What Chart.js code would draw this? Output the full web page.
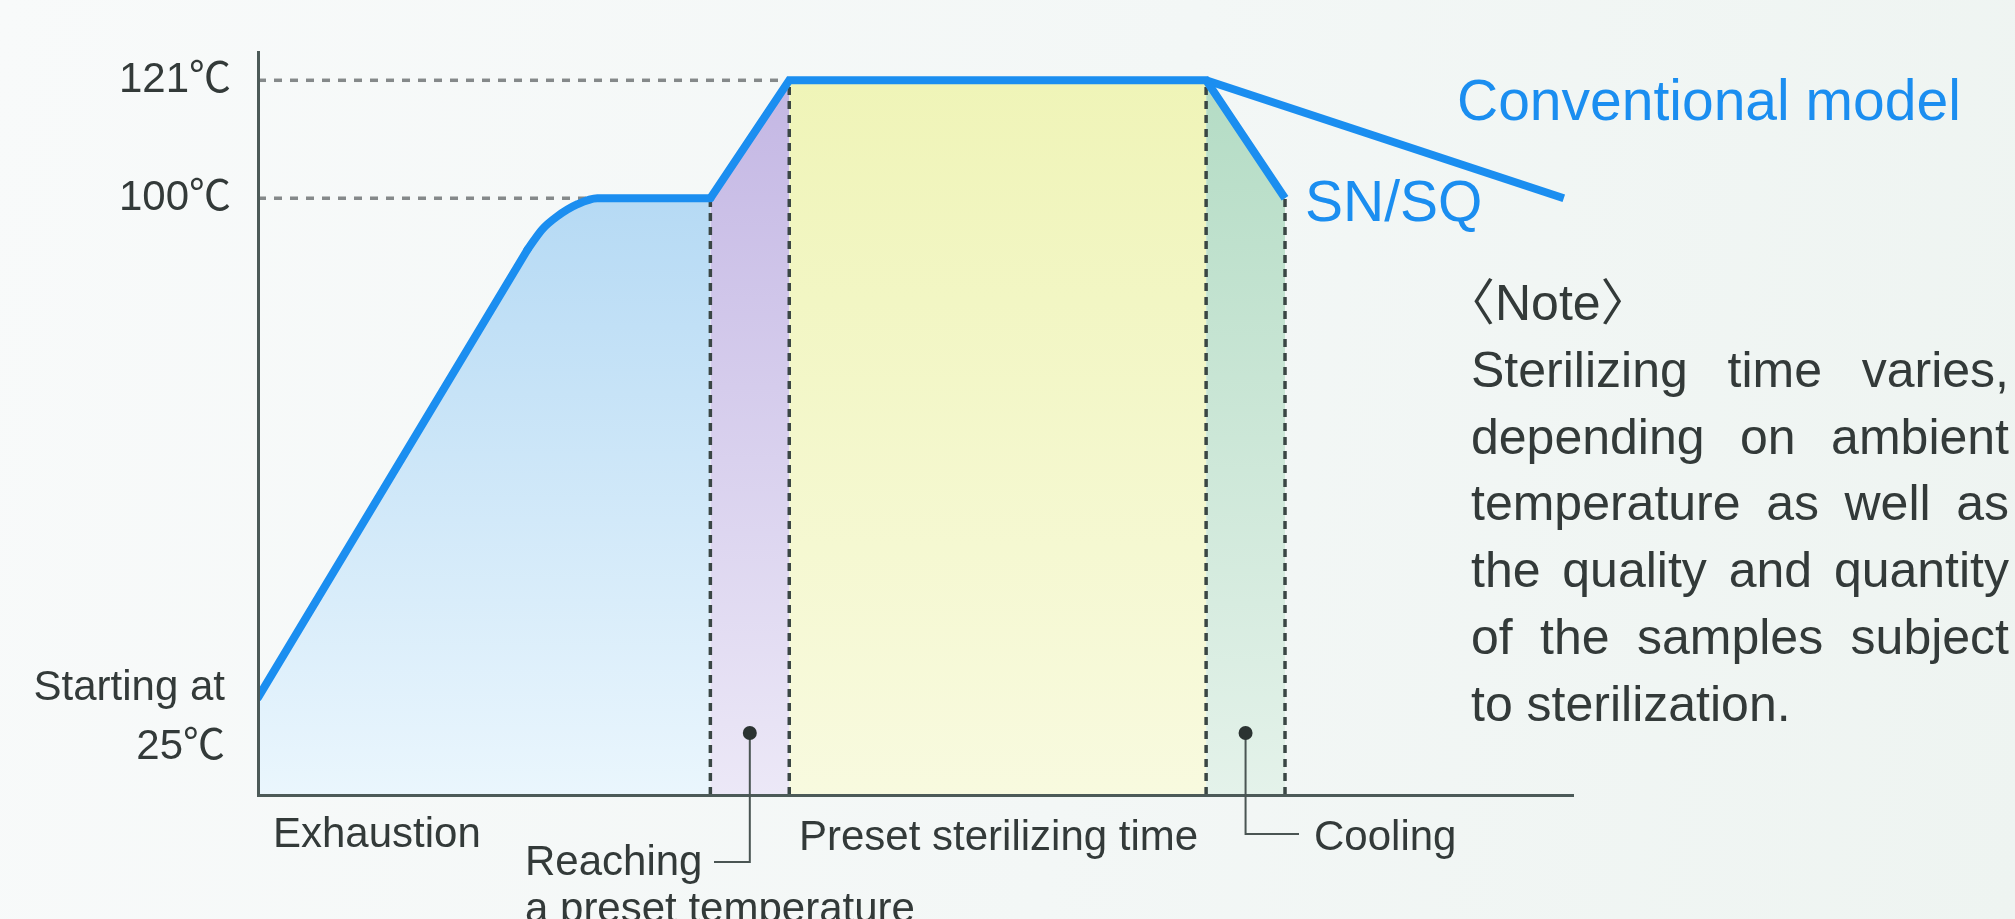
<!DOCTYPE html>
<html>
<head>
<meta charset="utf-8">
<script src="https://cdn.jsdelivr.net/npm/chart.js@4.4.1/dist/chart.umd.min.js"></script>
<style>
  html, body { margin: 0; padding: 0; overflow: hidden; }
  body { background: linear-gradient(100deg, #f8fafa 0%, #f3f7f6 55%, #eef4f1 100%); }
  #wrap { position: relative; width: 2015px; height: 919px; }
</style>
</head>
<body>
<div id="wrap"><canvas id="chart"></canvas></div>
<script>
// --- data (schematic time units, temperature in °C) ---
const phaseX = [0, 34.4, 40.4, 72.1, 78.1];
const snX = [0, 20.5, 21.6, 22.7, 24.3, 25.8, 34.4, 40.4, 72.1, 78.1];
const snY = [25, 92.3, 95.3, 97.2, 99.1, 100, 100, 121, 121, 100];
const kneeX = [20.5, 34.4];
const convX = [72.1, 99.3];
const convY = [121, 100];
const yTicks = [121, 100];
const yTickLabels = ['121℃', '100℃'];
const startLabel = ['Starting at', '25℃'];
const phaseLabels = ['Exhaustion', ['Reaching', 'a preset temperature'], 'Preset sterilizing time', 'Cooling'];
const seriesLabels = ['SN/SQ', 'Conventional model'];
const noteTitle = '〈Note〉';
const noteLines = [
  'Sterilizing time varies,',
  'depending on ambient',
  'temperature as well as',
  'the quality and quantity',
  'of the samples subject',
  'to sterilization.'
];

const BLUE = '#1b8ef0';
const TEXT = '#333a39';
const FONT = '"Liberation Sans", Arial, "Noto Sans CJK JP", sans-serif';
const phaseColors = [
  ['#a9d3f2', '#eaf6fd'],
  ['#c2b5e3', '#ece8f7'],
  ['#eff4b6', '#f8fadf'],
  ['#b2dbc3', '#e4f2ea']
];

// the y axis of the picture is a sketch: 25 -> 100 is stretched more than 100 -> 121
const yKnotVals = [10, 25, 100, 126];
const yKnotPos = [0, 0.1311, 0.8034, 1];
function toDecimal(v) {
  for (let i = 0; i < yKnotVals.length - 1; i++) {
    if (v <= yKnotVals[i + 1] || i === yKnotVals.length - 2) {
      const t = (v - yKnotVals[i]) / (yKnotVals[i + 1] - yKnotVals[i]);
      return yKnotPos[i] + t * (yKnotPos[i + 1] - yKnotPos[i]);
    }
  }
}
function fromDecimal(d) {
  for (let i = 0; i < yKnotPos.length - 1; i++) {
    if (d <= yKnotPos[i + 1] || i === yKnotPos.length - 2) {
      const t = (d - yKnotPos[i]) / (yKnotPos[i + 1] - yKnotPos[i]);
      return yKnotVals[i] + t * (yKnotVals[i + 1] - yKnotVals[i]);
    }
  }
}
class SchematicScale extends Chart.LinearScale {
  getPixelForValue(value) {
    if (value === null || isNaN(value)) return NaN;
    return this.getPixelForDecimal(toDecimal(value));
  }
  getValueForPixel(pixel) {
    return fromDecimal(this.getDecimalForPixel(pixel));
  }
}
SchematicScale.id = 'schematic';
SchematicScale.defaults = Chart.LinearScale.defaults;
Chart.register(SchematicScale);

const pts = (xs, ys) => xs.map((x, i) => ({ x: x, y: ys[i] }));
const snPts = pts(snX, snY);
const yAt = x => snY[snX.indexOf(x)];
const between = (a, b) => snPts.filter(p => p.x >= a && p.x <= b);

function vGradient(top, bottom) {
  return (ctx) => {
    const area = ctx.chart.chartArea;
    if (!area) return top;
    const g = ctx.chart.ctx.createLinearGradient(0, area.top, 0, area.bottom);
    g.addColorStop(0, top);
    g.addColorStop(1, bottom);
    return g;
  };
}

const datasets = [];
const lineStyle = { borderColor: BLUE, borderWidth: 8, pointRadius: 0, fill: false, order: 0 };
// SN/SQ: straight ramp, rounded knee at 100℃, then straight again
datasets.push({ ...lineStyle, data: between(0, kneeX[0]), borderCapStyle: 'round' });
datasets.push({ ...lineStyle, data: between(kneeX[0], kneeX[1]), cubicInterpolationMode: 'monotone', borderCapStyle: 'round' });
datasets.push({ ...lineStyle, data: between(kneeX[1], snX[snX.length - 1]), borderJoinStyle: 'miter' });
// conventional model
datasets.push({ ...lineStyle, data: pts(convX, convY) });
// horizontal guides to 121 / 100
yTicks.forEach(v => {
  const xEnd = snX[snY.indexOf(v)];
  datasets.push({ data: [{ x: 0, y: v }, { x: xEnd, y: v }], borderColor: '#85898a', borderWidth: 3.5,
    borderDash: [8, 8], pointRadius: 0, fill: false, order: 1 });
});
// vertical phase boundaries
phaseX.slice(1).forEach(x => {
  datasets.push({ data: [{ x: x, y: yKnotVals[0] }, { x: x, y: yAt(x) }], borderColor: '#3a4644', borderWidth: 3.5,
    borderDash: [8, 6], pointRadius: 0, fill: false, order: 1 });
});
// coloured phase areas
for (let i = 0; i < 4; i++) {
  datasets.push({ data: between(phaseX[i], phaseX[i + 1]), borderWidth: 0, pointRadius: 0, fill: 'start', order: 2,
    backgroundColor: vGradient(phaseColors[i][0], phaseColors[i][1]) });
}

function justify(ctx, text, x, y, width) {
  const words = text.split(' ');
  const total = words.reduce((s, w) => s + ctx.measureText(w).width, 0);
  const gap = words.length > 1 ? (width - total) / (words.length - 1) : 0;
  let cx = x;
  words.forEach(w => { ctx.fillText(w, cx, y); cx += ctx.measureText(w).width + gap; });
}

const annotations = {
  id: 'annotations',
  afterDraw(chart) {
    const ctx = chart.ctx;
    const xs = chart.scales.x;
    ctx.save();
    ctx.textBaseline = 'middle';
    ctx.fillStyle = TEXT;
    ctx.font = '42px ' + FONT;

    // start label
    ctx.textAlign = 'right';
    ctx.fillText(startLabel[0], 225, 688);
    ctx.fillText(startLabel[1], 225, 747);

    // phase labels
    ctx.textAlign = 'left';
    ctx.fillText(phaseLabels[0], 273, 835);
    ctx.fillText(phaseLabels[1][0], 525, 863);
    ctx.fillText(phaseLabels[1][1], 525, 910);
    ctx.fillText(phaseLabels[2], 799, 838);
    ctx.fillText(phaseLabels[3], 1314, 838);

    // leader lines with dots
    ctx.strokeStyle = '#4a5553';
    ctx.lineWidth = 2;
    const rx = xs.getPixelForValue((phaseX[1] + phaseX[2]) / 2);
    const cx = xs.getPixelForValue((phaseX[3] + phaseX[4]) / 2);
    ctx.beginPath();
    ctx.moveTo(rx, 733); ctx.lineTo(rx, 862); ctx.lineTo(714, 862);
    ctx.moveTo(cx, 733); ctx.lineTo(cx, 834); ctx.lineTo(1299, 834);
    ctx.stroke();
    ctx.fillStyle = '#2b3332';
    [rx, cx].forEach(x => { ctx.beginPath(); ctx.arc(x, 733, 7, 0, Math.PI * 2); ctx.fill(); });

    // series labels
    ctx.fillStyle = BLUE;
    ctx.font = '57px ' + FONT;
    ctx.fillText(seriesLabels[0], 1305, 205);
    ctx.fillText(seriesLabels[1], 1457, 104);

    // note
    ctx.fillStyle = TEXT;
    ctx.font = '50px ' + FONT;
    ctx.fillText(noteTitle, 1445, 306);
    noteLines.forEach((line, i) => {
      const y = 373 + i * 66.8;
      if (i === noteLines.length - 1) ctx.fillText(line, 1471, y);
      else justify(ctx, line, 1471, y, 538);
    });
    ctx.restore();
  }
};

new Chart(document.getElementById('chart'), {
  type: 'line',
  data: { datasets: datasets },
  options: {
    responsive: true,
    maintainAspectRatio: false,
    animation: false,
    layout: { padding: { left: 0, top: 32, right: 442, bottom: 0 } },
    plugins: { legend: { display: false }, tooltip: { enabled: false } },
    scales: {
      x: {
        type: 'linear', min: 0, max: 100,
        grid: { display: false, drawTicks: false },
        ticks: { display: false },
        border: { color: '#4c5a58', width: 3, z: 1 },
        afterFit: s => { s.height = 124; }
      },
      y: {
        type: 'schematic', min: yKnotVals[0], max: yKnotVals[yKnotVals.length - 1],
        grid: { display: false, drawTicks: false },
        border: { color: '#4c5a58', width: 3, z: 1 },
        ticks: {
          padding: 27, color: TEXT, font: { size: 42, family: FONT },
          autoSkip: false,
          callback: (v, i) => yTickLabels[i]
        },
        afterBuildTicks: s => { s.ticks = yTicks.map(v => ({ value: v })); },
        afterFit: s => { s.width = 258; }
      }
    }
  },
  plugins: [annotations]
});
</script>
</body>
</html>
